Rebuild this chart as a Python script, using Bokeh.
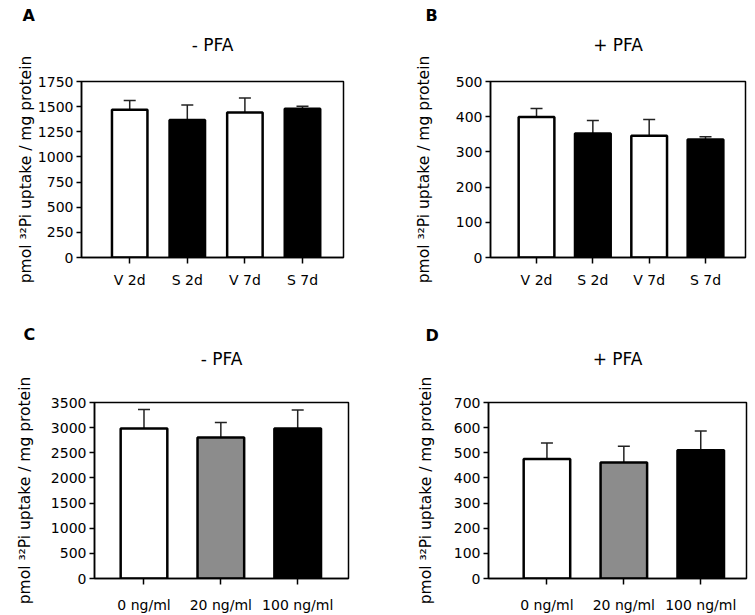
from bokeh.plotting import figure
from bokeh.layouts import column, row
from bokeh.models import (ColumnDataSource, Range1d, FixedTicker, Whisker, TeeHead, Title)
from bokeh.embed import file_html
from bokeh.resources import INLINE

# ---------------- data ----------------
cats_ab = ["V 2d", "S 2d", "V 7d", "S 7d"]
colors_ab = ["white", "black", "white", "black"]
a_mean = [1470, 1368, 1443, 1478]
a_err = [92, 149, 144, 27]
b_mean = [399, 352, 346, 335]
b_err = [24, 37, 46, 8]

cats_cd = ["0 ng/ml", "20 ng/ml", "100 ng/ml"]
colors_cd = ["white", "#8c8c8c", "black"]
c_mean = [2985, 2805, 2985]
c_err = [375, 295, 365]
d_mean = [475, 461, 510]
d_err = [64, 65, 77]

a_ticks = [0, 250, 500, 750, 1000, 1250, 1500, 1750]
b_ticks = [0, 100, 200, 300, 400, 500]
c_ticks = [0, 500, 1000, 1500, 2000, 2500, 3000, 3500]
d_ticks = [0, 100, 200, 300, 400, 500, 600, 700]

YLABEL = "pmol \u00b3\u00b2Pi uptake / mg protein"
FONT = "DejaVu Sans"


def panel(cats, means, errs, colors, ticks, title, letter,
          width, height, bl, br, bt, bb, xr, bar_w, label_standoff,
          x_standoff, title_standoff, letter_offset, letter_standoff):
    idx = list(range(len(cats)))
    upper = [m + e for m, e in zip(means, errs)]
    src = ColumnDataSource(dict(x=idx, y=means, upper=upper, color=colors))
    p = figure(width=width, height=height, output_backend="svg",
               toolbar_location=None, x_range=Range1d(*xr),
               y_range=Range1d(ticks[0], ticks[-1]),
               min_border_left=bl, min_border_right=br,
               min_border_top=bt, min_border_bottom=bb)
    p.xgrid.visible = False
    p.ygrid.visible = False
    p.outline_line_color = "black"
    p.outline_line_width = 1.5
    p.background_fill_color = "white"
    p.border_fill_color = "white"

    p.vbar(x="x", top="y", bottom=0, width=bar_w, source=src,
           fill_color="color", line_color="black", line_width=2.5)
    wh = Whisker(source=src, base="x", lower="y", upper="upper",
                 dimension="height", line_color="#222222", line_width=1.5,
                 lower_head=None,
                 upper_head=TeeHead(size=12, line_color="#222222", line_width=1.5))
    p.add_layout(wh)

    # axes
    p.yaxis.ticker = FixedTicker(ticks=ticks)
    p.yaxis.minor_tick_line_color = None
    p.yaxis.major_tick_out = 5
    p.yaxis.major_tick_in = 0
    p.yaxis.major_tick_line_width = 1.5
    p.yaxis.major_label_standoff = 3
    p.yaxis.axis_line_width = 1.5
    p.yaxis.major_label_text_font = FONT
    p.yaxis.major_label_text_font_size = "14px"
    p.yaxis.major_label_text_color = "black"
    p.yaxis.axis_label = YLABEL
    p.yaxis.axis_label_text_font = FONT
    p.yaxis.axis_label_text_font_size = "15.5px"
    p.yaxis.axis_label_text_font_style = "normal"
    p.yaxis.axis_label_text_color = "black"
    p.yaxis.axis_label_standoff = label_standoff

    p.xaxis.ticker = FixedTicker(ticks=idx)
    p.xaxis.major_label_overrides = {i: c for i, c in zip(idx, cats)}
    p.xaxis.minor_tick_line_color = None
    p.xaxis.major_tick_out = 6
    p.xaxis.major_tick_in = 0
    p.xaxis.major_tick_line_width = 1.5
    p.xaxis.axis_line_width = 1.5
    p.xaxis.major_label_standoff = x_standoff
    p.xaxis.major_label_text_font = FONT
    p.xaxis.major_label_text_font_size = "14px"
    p.xaxis.major_label_text_color = "black"

    # panel letter: main (outermost) title
    p.title.text = letter
    p.title.align = "left"
    p.title.offset = letter_offset
    p.title.standoff = letter_standoff
    p.title.text_font = FONT
    p.title.text_font_size = "16px"
    p.title.text_font_style = "bold"
    p.title.text_color = "black"

    # panel heading: inner title, next to the frame
    p.add_layout(Title(text=title, align="center", standoff=title_standoff,
                       text_font=FONT, text_font_size="17px",
                       text_font_style="normal", text_color="black"), "above")
    return p


pA = panel(cats_ab, a_mean, a_err, colors_ab, a_ticks, "- PFA", "A",
           375, 300, 81, 32, 81, 43, (-0.837, 3.712), 0.616, 0, 8,
           54, -59, -38)
pB = panel(cats_ab, b_mean, b_err, colors_ab, b_ticks, "+ PFA", "B",
           380, 300, 115, 10, 81, 43, (-0.817, 3.71), 0.634, 20, 8,
           54, -65, -38)
pC = panel(cats_cd, c_mean, c_err, colors_cd, c_ticks, "- PFA", "C",
           375, 315, 94, 27, 102, 37, (-0.644, 2.661), 0.607, 14, 12,
           67, -71, -60)
pD = panel(cats_cd, d_mean, d_err, colors_cd, d_ticks, "+ PFA", "D",
           380, 315, 113, 9, 102, 37, (-0.76, 2.595), 0.605, 16, 12,
           67, -63, -62)

layout = column(row(pA, pB), row(pC, pD))

open("out.html", "w").write(file_html(layout, INLINE))
